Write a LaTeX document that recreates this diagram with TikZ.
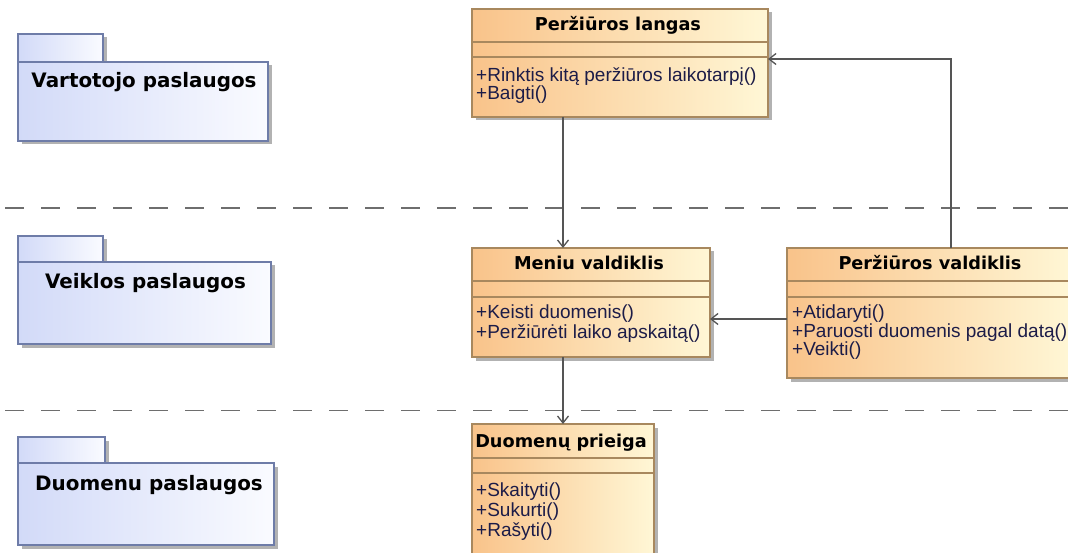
\documentclass[tikz,border=0pt]{standalone}
\usepackage{fontspec}
\setmainfont{Liberation Sans}
\newfontfamily\headfont{DejaVu Sans}
\usetikzlibrary{arrows.meta,shadows,calc}
\definecolor{clsA}{HTML}{F9C38A}
\definecolor{clsB}{HTML}{FFF7D6}
\definecolor{clsLine}{HTML}{A8885E}
\definecolor{pkgA}{HTML}{D2DAF8}
\definecolor{pkgB}{HTML}{FAFBFF}
\definecolor{pkgLine}{HTML}{6E7CA8}
\definecolor{wire}{HTML}{555555}
\definecolor{laneLine}{HTML}{6E6E6E}
\definecolor{opText}{HTML}{1C1C48}

\begin{document}
\begin{tikzpicture}[x=1pt,y=-1pt,
  boxshadow/.style={drop shadow={fill=black!30,opacity=1,shadow xshift=3.5pt,shadow yshift=-3.5pt}},
  classbox/.style={draw=clsLine,line width=1.2pt,left color=clsA,right color=clsB,
    boxshadow,anchor=north west,inner sep=0pt,outer sep=0pt},
  pkgbox/.style={draw=pkgLine,line width=1.2pt,left color=pkgA,right color=pkgB,
    boxshadow,anchor=north west,inner sep=0pt,outer sep=0pt},
  sep/.style={draw=clsLine,line width=1.2pt},
  hdtext/.style={font=\headfont\fontsize{17.7}{17.7}\selectfont\bfseries,anchor=base,inner sep=0pt},
  optext/.style={font=\fontsize{19}{19}\selectfont,text=opText,anchor=base west,inner sep=0pt},
  pkgtext/.style={font=\headfont\fontsize{19.9}{19.9}\selectfont\bfseries,anchor=base,inner sep=0pt},
  lane/.style={draw=laneLine,line width=1.8pt,dash pattern=on 19pt off 17pt},
  wire/.style={draw=wire,line width=1.3pt,-{Straight Barb[length=7pt,width=11pt,line width=1.3pt]}}
]
\useasboundingbox (0,0) rectangle (1068,553);

% layer separators
\coordinate (laneTopL) at (5,208);
\coordinate (laneTopR) at (1075,208);
\coordinate (laneBotL) at (5,410.5);
\coordinate (laneBotR) at (1075,410.5);
\draw[lane] (laneTopL) -- (laneTopR);
\draw[lane] (laneBotL) -- (laneBotR);

% packages
\node[pkgbox,minimum width=85pt,minimum height=28pt] (pkg1tab) at (18,34) {};
\node[pkgbox,minimum width=250pt,minimum height=79pt] (pkg1) at (18,62) {};
\node[pkgtext] (pkg1name) at ($(pkg1.north)+(1,26)$) {Vartotojo paslaugos};

\node[pkgbox,minimum width=85pt,minimum height=26pt] (pkg2tab) at (18,236) {};
\node[pkgbox,minimum width=253pt,minimum height=82pt] (pkg2) at (18,262) {};
\node[pkgtext] (pkg2name) at ($(pkg2.north)+(1,27)$) {Veiklos paslaugos};

\node[pkgbox,minimum width=87pt,minimum height=26pt] (pkg3tab) at (18,437) {};
\node[pkgbox,minimum width=256pt,minimum height=82pt] (pkg3) at (18,463) {};
\node[pkgtext] (pkg3name) at ($(pkg3.north)+(3,27)$) {Duomenu paslaugos};

% class: Peržiūros langas
\node[classbox,minimum width=296pt,minimum height=108pt] (pl) at (472,9) {};
\draw[sep] ($(pl.north west)+(0,33)$) -- ($(pl.north east)+(0,33)$);
\draw[sep] ($(pl.north west)+(0,48)$) -- ($(pl.north east)+(0,48)$);
\node[hdtext] (plname) at ($(pl.north)+(-2,22)$) {Peržiūros langas};
\node[optext] (plop1) at ($(pl.north west)+(4,73)$) {+Rinktis kitą peržiūros laikotarpį()};
\node[optext] (plop2) at ($(pl.north west)+(4,91)$) {+Baigti()};

% class: Meniu valdiklis
\node[classbox,minimum width=238pt,minimum height=109pt] (mv) at (472,248) {};
\draw[sep] ($(mv.north west)+(0,33)$) -- ($(mv.north east)+(0,33)$);
\draw[sep] ($(mv.north west)+(0,49)$) -- ($(mv.north east)+(0,49)$);
\node[hdtext] (mvname) at ($(mv.north)+(-2,22)$) {Meniu valdiklis};
\node[optext] (mvop1) at ($(mv.north west)+(4,71)$) {+Keisti duomenis()};
\node[optext] (mvop2) at ($(mv.north west)+(4,90)$) {+Peržiūrėti laiko apskaitą()};

% class: Peržiūros valdiklis
\node[classbox,minimum width=286pt,minimum height=130pt] (pv) at (787,248) {};
\draw[sep] ($(pv.north west)+(0,33)$) -- ($(pv.north east)+(0,33)$);
\draw[sep] ($(pv.north west)+(0,49)$) -- ($(pv.north east)+(0,49)$);
\node[hdtext] (pvname) at ($(pv.north)+(0,22)$) {Peržiūros valdiklis};
\node[optext] (pvop1) at ($(pv.north west)+(5,71)$) {+Atidaryti()};
\node[optext] (pvop2) at ($(pv.north west)+(5,89)$) {+Paruosti duomenis pagal datą()};
\node[optext] (pvop3) at ($(pv.north west)+(5,107)$) {+Veikti()};

% class: Duomenų prieiga
\node[classbox,minimum width=182pt,minimum height=140pt] (dp) at (472,424) {};
\draw[sep] ($(dp.north west)+(0,34)$) -- ($(dp.north east)+(0,34)$);
\draw[sep] ($(dp.north west)+(0,49)$) -- ($(dp.north east)+(0,49)$);
\node[hdtext] (dpname) at ($(dp.north)+(-2,23)$) {Duomenų prieiga};
\node[optext] (dpop1) at ($(dp.north west)+(4,72)$) {+Skaityti()};
\node[optext] (dpop2) at ($(dp.north west)+(4,92)$) {+Sukurti()};
\node[optext] (dpop3) at ($(dp.north west)+(4,112)$) {+Rašyti()};

% dependencies
\draw[wire] (pl.south -| dp.north) -- (mv.north -| dp.north);
\draw[wire] (mv.south -| dp.north) -- (dp.north);
\coordinate (pvUp) at ($(pv.north)+(21,0)$);
\coordinate (plIn) at ($(pl.east)+(0,-4)$);
\draw[wire] (pvUp) |- (plIn);
\coordinate (pvOut) at ($(pv.west)+(0,6)$);
\draw[wire] (pvOut) -- (pvOut -| mv.east);
\end{tikzpicture}
\end{document}
